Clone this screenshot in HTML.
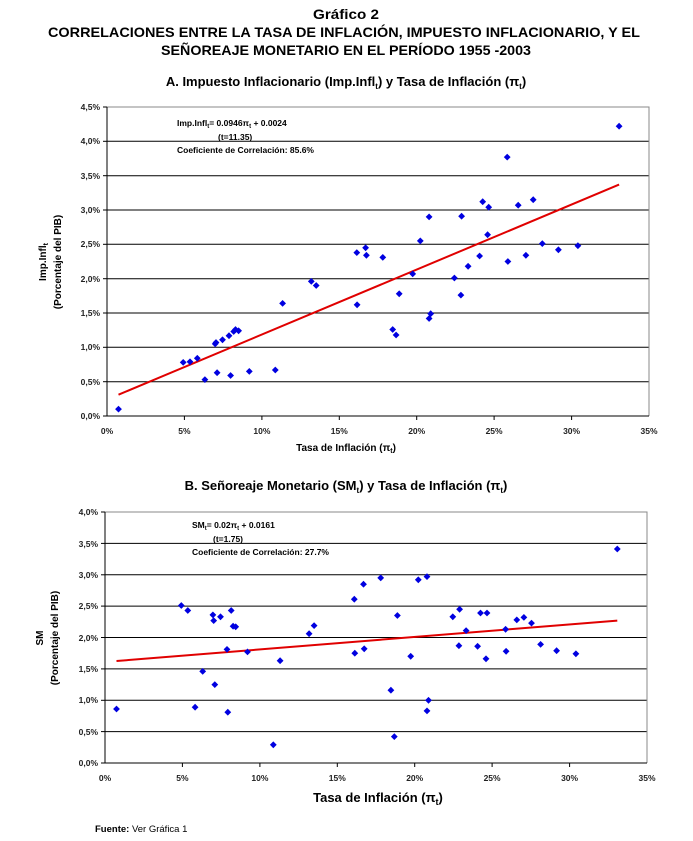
<!DOCTYPE html>
<html><head><meta charset="utf-8"><style>
body{margin:0;background:#fff;}
svg{display:block;font-family:"Liberation Sans",Arial,sans-serif;}
.t{font-weight:bold;fill:#000;}
.tk{font-size:8.5px;font-weight:bold;fill:#222;}
.g{stroke:#000;stroke-width:1;}
</style></head><body>
<svg width="693" height="841" viewBox="0 0 693 841" xmlns="http://www.w3.org/2000/svg">
<defs><path id="d" d="M0,-3.4 L3.4,0 L0,3.4 L-3.4,0Z" fill="#0000e0"/></defs>
<text class="t" x="346" y="19" font-size="14" text-anchor="middle" textLength="66" lengthAdjust="spacingAndGlyphs">Gráfico 2</text>
<text class="t" x="344" y="37" font-size="14" text-anchor="middle" textLength="592" lengthAdjust="spacingAndGlyphs">CORRELACIONES ENTRE LA TASA DE INFLACIÓN, IMPUESTO INFLACIONARIO,  Y EL</text>
<text class="t" x="346" y="55" font-size="14" text-anchor="middle" textLength="370" lengthAdjust="spacingAndGlyphs">SEÑOREAJE MONETARIO EN EL PERÍODO 1955 -2003</text>
<text class="t" x="346" y="86" font-size="13" text-anchor="middle">A.  Impuesto Inflacionario (Imp.Infl<tspan font-size="8" dy="3">t</tspan><tspan dy="-3">)  y Tasa de Inflación (π</tspan><tspan font-size="8" dy="3">t</tspan><tspan dy="-3">)</tspan></text>

<!-- Chart A -->
<g class="g">
<line x1="107" y1="381.7" x2="649" y2="381.7"/><line x1="107" y1="347.3" x2="649" y2="347.3"/><line x1="107" y1="313" x2="649" y2="313"/><line x1="107" y1="278.7" x2="649" y2="278.7"/><line x1="107" y1="244.3" x2="649" y2="244.3"/><line x1="107" y1="210" x2="649" y2="210"/><line x1="107" y1="175.7" x2="649" y2="175.7"/><line x1="107" y1="141.3" x2="649" y2="141.3"/>
</g>
<polyline points="107,107 649,107 649,416" fill="none" stroke="#888"/>
<line x1="107" y1="107" x2="107" y2="416" stroke="#000"/><line x1="107" y1="416" x2="649" y2="416" stroke="#000"/>
<g stroke="#000">
<line x1="103" y1="416" x2="107" y2="416"/><line x1="103" y1="381.7" x2="107" y2="381.7"/><line x1="103" y1="347.3" x2="107" y2="347.3"/><line x1="103" y1="313" x2="107" y2="313"/><line x1="103" y1="278.7" x2="107" y2="278.7"/><line x1="103" y1="244.3" x2="107" y2="244.3"/><line x1="103" y1="210" x2="107" y2="210"/><line x1="103" y1="175.7" x2="107" y2="175.7"/><line x1="103" y1="141.3" x2="107" y2="141.3"/><line x1="103" y1="107" x2="107" y2="107"/>
<line x1="184.4" y1="416" x2="184.4" y2="420"/><line x1="261.9" y1="416" x2="261.9" y2="420"/><line x1="339.3" y1="416" x2="339.3" y2="420"/><line x1="416.7" y1="416" x2="416.7" y2="420"/><line x1="494.1" y1="416" x2="494.1" y2="420"/><line x1="571.6" y1="416" x2="571.6" y2="420"/>
</g>
<g class="tk" text-anchor="end">
<text x="100" y="419">0,0%</text><text x="100" y="385">0,5%</text><text x="100" y="350">1,0%</text><text x="100" y="316">1,5%</text><text x="100" y="282">2,0%</text><text x="100" y="247">2,5%</text><text x="100" y="213">3,0%</text><text x="100" y="179">3,5%</text><text x="100" y="144">4,0%</text><text x="100" y="110">4,5%</text>
</g>
<g class="tk" text-anchor="middle">
<text x="107" y="434">0%</text><text x="184.4" y="434">5%</text><text x="261.9" y="434">10%</text><text x="339.3" y="434">15%</text><text x="416.7" y="434">20%</text><text x="494.1" y="434">25%</text><text x="571.6" y="434">30%</text><text x="649" y="434">35%</text>
</g>
<text class="t" x="346" y="451" font-size="10" text-anchor="middle">Tasa de Inflación (π<tspan font-size="7" dy="2">t</tspan><tspan dy="-2">)</tspan></text>
<g transform="translate(46,262) rotate(-90)"><text class="t" font-size="10" text-anchor="middle" x="0" y="0">Imp.Infl<tspan font-size="7" dy="2">t</tspan></text></g>
<g transform="translate(61,262) rotate(-90)"><text class="t" font-size="10" text-anchor="middle" x="0" y="0">(Porcentaje del PIB)</text></g>
<text class="t" x="177" y="126" font-size="8.5">Imp.Infl<tspan font-size="6" dy="2">t</tspan><tspan dy="-2">= 0.0946π</tspan><tspan font-size="6" dy="2">t</tspan><tspan dy="-2"> + 0.0024</tspan></text>
<text class="t" x="218" y="140" font-size="8.5">(t=11.35)</text>
<text class="t" x="177" y="153" font-size="8.5">Coeficiente de Correlación:  85.6%</text>
<line x1="118.5" y1="394.7" x2="619.1" y2="184.6" stroke="#e00000" stroke-width="2"/>
<g>
<use href="#d" x="118.5" y="409.1"/><use href="#d" x="183.2" y="362.4"/><use href="#d" x="190" y="361.8"/><use href="#d" x="197.3" y="358.3"/><use href="#d" x="204.9" y="379.6"/><use href="#d" x="215.2" y="343.9"/><use href="#d" x="216" y="342.5"/><use href="#d" x="217.1" y="372.7"/><use href="#d" x="222.5" y="339.8"/><use href="#d" x="229" y="335.7"/><use href="#d" x="230.6" y="375.5"/><use href="#d" x="233.7" y="331.5"/><use href="#d" x="235.5" y="329.5"/><use href="#d" x="238.6" y="330.8"/><use href="#d" x="249.3" y="371.4"/><use href="#d" x="275.3" y="370"/><use href="#d" x="282.6" y="303.4"/><use href="#d" x="311.3" y="281.4"/><use href="#d" x="316.2" y="285.5"/><use href="#d" x="356.8" y="252.6"/><use href="#d" x="357.1" y="304.8"/><use href="#d" x="365.6" y="247.8"/><use href="#d" x="366.4" y="255.3"/><use href="#d" x="382.8" y="257.4"/><use href="#d" x="392.7" y="329.5"/><use href="#d" x="396.1" y="335"/><use href="#d" x="399.2" y="293.8"/><use href="#d" x="412.7" y="273.9"/><use href="#d" x="420.3" y="240.9"/><use href="#d" x="429.1" y="216.9"/><use href="#d" x="429.1" y="318.5"/><use href="#d" x="430.7" y="313.7"/><use href="#d" x="454.4" y="278"/><use href="#d" x="460.9" y="295.1"/><use href="#d" x="461.6" y="216.2"/><use href="#d" x="468.1" y="266.3"/><use href="#d" x="479.6" y="256"/><use href="#d" x="482.7" y="201.7"/><use href="#d" x="487.6" y="234.7"/><use href="#d" x="488.7" y="207.2"/><use href="#d" x="507.2" y="157.1"/><use href="#d" x="507.9" y="261.5"/><use href="#d" x="518.2" y="205.2"/><use href="#d" x="525.9" y="255.3"/><use href="#d" x="533.2" y="199.7"/><use href="#d" x="542.3" y="243.6"/><use href="#d" x="558.4" y="249.8"/><use href="#d" x="577.9" y="245.7"/><use href="#d" x="619.1" y="126.2"/>
</g>

<!-- Chart B -->
<text class="t" x="346" y="490" font-size="13" text-anchor="middle">B.  Señoreaje Monetario (SM<tspan font-size="8" dy="3">t</tspan><tspan dy="-3">) y Tasa de Inflación (π</tspan><tspan font-size="8" dy="3">t</tspan><tspan dy="-3">)</tspan></text>
<g class="g">
<line x1="105" y1="731.6" x2="647" y2="731.6"/><line x1="105" y1="700.3" x2="647" y2="700.3"/><line x1="105" y1="668.9" x2="647" y2="668.9"/><line x1="105" y1="637.5" x2="647" y2="637.5"/><line x1="105" y1="606.1" x2="647" y2="606.1"/><line x1="105" y1="574.8" x2="647" y2="574.8"/><line x1="105" y1="543.4" x2="647" y2="543.4"/>
</g>
<polyline points="105,512 647,512 647,763" fill="none" stroke="#888"/>
<line x1="105" y1="512" x2="105" y2="763" stroke="#000"/><line x1="105" y1="763" x2="647" y2="763" stroke="#000"/>
<g stroke="#000">
<line x1="101" y1="763" x2="105" y2="763"/><line x1="101" y1="731.6" x2="105" y2="731.6"/><line x1="101" y1="700.3" x2="105" y2="700.3"/><line x1="101" y1="668.9" x2="105" y2="668.9"/><line x1="101" y1="637.5" x2="105" y2="637.5"/><line x1="101" y1="606.1" x2="105" y2="606.1"/><line x1="101" y1="574.8" x2="105" y2="574.8"/><line x1="101" y1="543.4" x2="105" y2="543.4"/><line x1="101" y1="512" x2="105" y2="512"/>
<line x1="182.4" y1="763" x2="182.4" y2="767"/><line x1="259.9" y1="763" x2="259.9" y2="767"/><line x1="337.3" y1="763" x2="337.3" y2="767"/><line x1="414.7" y1="763" x2="414.7" y2="767"/><line x1="492.1" y1="763" x2="492.1" y2="767"/><line x1="569.6" y1="763" x2="569.6" y2="767"/>
</g>
<g class="tk" text-anchor="end">
<text x="98" y="766">0,0%</text><text x="98" y="735">0,5%</text><text x="98" y="703">1,0%</text><text x="98" y="672">1,5%</text><text x="98" y="641">2,0%</text><text x="98" y="609">2,5%</text><text x="98" y="578">3,0%</text><text x="98" y="547">3,5%</text><text x="98" y="515">4,0%</text>
</g>
<g class="tk" text-anchor="middle">
<text x="105" y="781">0%</text><text x="182.4" y="781">5%</text><text x="259.9" y="781">10%</text><text x="337.3" y="781">15%</text><text x="414.7" y="781">20%</text><text x="492.1" y="781">25%</text><text x="569.6" y="781">30%</text><text x="647" y="781">35%</text>
</g>
<text class="t" x="378" y="802" font-size="13" text-anchor="middle">Tasa de Inflación (π<tspan font-size="9" dy="3">t</tspan><tspan dy="-3">)</tspan></text>
<g transform="translate(43,638) rotate(-90)"><text class="t" font-size="10" text-anchor="middle" x="0" y="0">SM</text></g>
<g transform="translate(58,638) rotate(-90)"><text class="t" font-size="10" text-anchor="middle" x="0" y="0">(Porcentaje del PIB)</text></g>
<text class="t" x="192" y="528" font-size="8.5">SM<tspan font-size="6" dy="2">t</tspan><tspan dy="-2">= 0.02π</tspan><tspan font-size="6" dy="2">t</tspan><tspan dy="-2"> + 0.0161</tspan></text>
<text class="t" x="213" y="542" font-size="8.5">(t=1.75)</text>
<text class="t" x="192" y="555" font-size="8.5">Coeficiente de Correlación:  27.7%</text>
<line x1="116.5" y1="661" x2="617.3" y2="620.6" stroke="#e00000" stroke-width="2"/>
<g>
<use href="#d" x="116.5" y="709"/><use href="#d" x="181.3" y="605.5"/><use href="#d" x="187.8" y="610.5"/><use href="#d" x="195.1" y="707.2"/><use href="#d" x="202.7" y="671.4"/><use href="#d" x="212.9" y="614.9"/><use href="#d" x="213.7" y="620.6"/><use href="#d" x="214.8" y="684.6"/><use href="#d" x="220.5" y="616.8"/><use href="#d" x="227" y="649.4"/><use href="#d" x="227.8" y="712.2"/><use href="#d" x="231.2" y="610.5"/><use href="#d" x="233.1" y="626.2"/><use href="#d" x="235.7" y="626.8"/><use href="#d" x="247.5" y="651.9"/><use href="#d" x="273.3" y="744.8"/><use href="#d" x="280.1" y="660.7"/><use href="#d" x="309.1" y="633.7"/><use href="#d" x="314.1" y="625.6"/><use href="#d" x="354.3" y="599.2"/><use href="#d" x="354.8" y="653.2"/><use href="#d" x="363.5" y="584.2"/><use href="#d" x="364.2" y="648.8"/><use href="#d" x="380.7" y="577.9"/><use href="#d" x="390.9" y="690.2"/><use href="#d" x="394.3" y="736.6"/><use href="#d" x="397.4" y="615.5"/><use href="#d" x="410.7" y="656.3"/><use href="#d" x="418.3" y="579.8"/><use href="#d" x="427" y="576.6"/><use href="#d" x="427" y="710.9"/><use href="#d" x="428.5" y="700.3"/><use href="#d" x="452.8" y="616.8"/><use href="#d" x="458.9" y="645.7"/><use href="#d" x="459.6" y="609.3"/><use href="#d" x="466.1" y="630.6"/><use href="#d" x="477.6" y="646.3"/><use href="#d" x="480.5" y="613"/><use href="#d" x="486" y="658.8"/><use href="#d" x="487" y="613"/><use href="#d" x="505.6" y="629.3"/><use href="#d" x="506.1" y="651.3"/><use href="#d" x="516.8" y="619.9"/><use href="#d" x="523.9" y="617.4"/><use href="#d" x="531.5" y="623.1"/><use href="#d" x="540.6" y="644.4"/><use href="#d" x="556.6" y="650.7"/><use href="#d" x="575.9" y="653.8"/><use href="#d" x="617.3" y="549"/>
</g>
<text x="95" y="832" font-size="9.5" fill="#000"><tspan font-weight="bold">Fuente:</tspan> Ver Gráfica 1</text>
</svg>
</body></html>
